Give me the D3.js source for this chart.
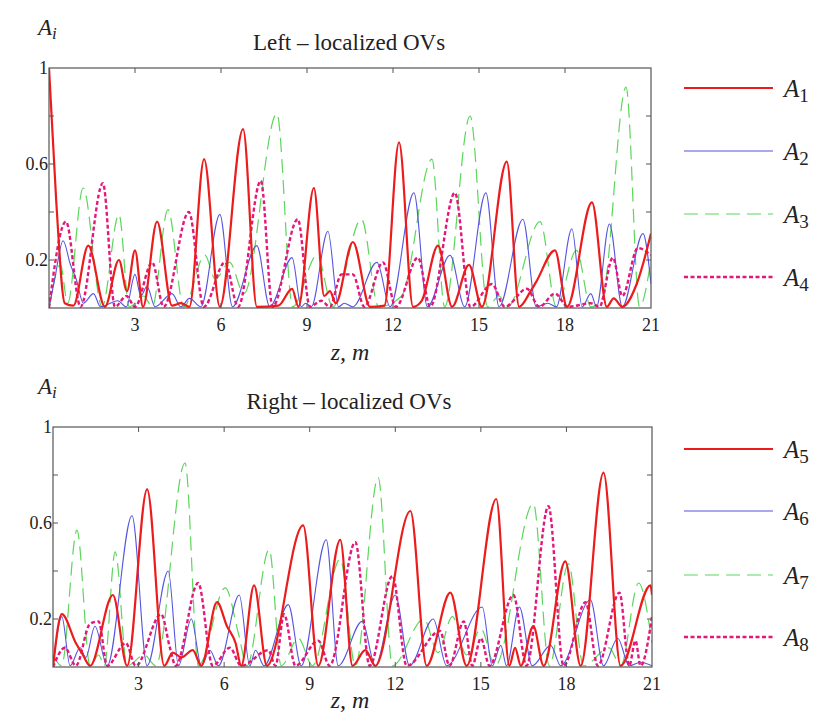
<!DOCTYPE html>
<html>
<head>
<meta charset="utf-8">
<script src="https://cdnjs.cloudflare.com/ajax/libs/d3/7.8.5/d3.min.js"></script>
<style>
  body { margin: 0; background: #fff; }
</style>
</head>
<body>
<script>
var w = 814;
var h = 716;

// tick values shared by both panels
var xTicks = [3, 6, 9, 12, 15, 18, 21];
var yTicks = [0.2, 0.4, 0.6, 0.8];
var yLabels = [1, 0.6, 0.2];

// [z, A] at peaks and troughs
// left-localized
var a1 = [[0,1],[0.25,0.45],[0.55,0.02],[0.85,0.01],[1.37,0.26],[1.95,0.005],[2.44,0.20],[2.72,0.07],[3.0,0.24],[3.28,0.005],[3.77,0.36],[4.29,0.01],[4.6,0.02],[4.9,0.005],[5.41,0.62],[5.96,0.005],[6.77,0.745],[7.25,0.005],[8.0,0.01],[8.48,0.08],[8.7,0.005],[9.24,0.50],[9.6,0.05],[9.8,0.07],[10.0,0.02],[10.6,0.275],[11.2,0.005],[11.7,0.01],[12.21,0.69],[12.7,0.005],[13.0,0.03],[13.57,0.26],[14.06,0.005],[14.65,0.18],[15.1,0.005],[15.97,0.61],[16.4,0.005],[16.8,0.07],[17.0,0.11],[17.65,0.24],[18.07,0.005],[18.94,0.44],[19.46,0.005],[19.7,0.04],[20.0,0.005],[20.5,0.1],[21,0.31]];
var a2 = [[0,0],[0.2,0.12],[0.49,0.28],[0.75,0.18],[0.95,0.12],[1.2,0.02],[1.55,0.06],[1.8,0.005],[2.4,0.03],[2.7,0.005],[3.0,0.14],[3.2,0.05],[3.42,0.09],[3.7,0.005],[4.29,0.06],[4.6,0.005],[4.9,0.04],[5.3,0.005],[5.96,0.39],[6.4,0.005],[7.25,0.26],[7.7,0.005],[8.48,0.21],[8.8,0.005],[8.95,0.02],[9.15,0.005],[9.73,0.32],[10.1,0.005],[10.3,0.02],[10.6,0.005],[11.44,0.19],[11.9,0.005],[12.73,0.48],[13.2,0.005],[13.99,0.22],[14.5,0.005],[15.24,0.48],[15.7,0.005],[16.53,0.37],[17.0,0.005],[17.4,0.02],[17.7,0.005],[18.24,0.33],[18.6,0.005],[18.9,0.06],[19.1,0.005],[19.55,0.35],[20.0,0.005],[20.72,0.31],[21,0.1]];
var a3 = [[0,0],[0.4,0.18],[0.65,0.02],[1.19,0.50],[1.85,0.005],[2.44,0.39],[2.8,0.005],[3.3,0.05],[3.6,0.005],[4.15,0.41],[4.7,0.005],[5.44,0.22],[5.8,0.12],[6.3,0.19],[6.8,0.06],[7.95,0.81],[8.5,0.005],[9.35,0.22],[9.9,0.005],[10.9,0.37],[11.5,0.005],[12.3,0.05],[13.36,0.62],[13.8,0.005],[14.69,0.80],[15.3,0.005],[15.7,0.05],[16.0,0.005],[17.13,0.36],[17.7,0.005],[18.4,0.24],[18.9,0.005],[19.3,0.04],[20.13,0.92],[20.6,0.005],[21,0.2]];
var a4 = [[0,0],[0.59,0.36],[1.1,0.005],[1.88,0.52],[2.3,0.005],[2.7,0.05],[3.0,0.005],[3.6,0.19],[4.0,0.005],[4.88,0.40],[5.4,0.005],[6.14,0.19],[6.6,0.005],[7.39,0.53],[7.8,0.005],[8.68,0.37],[9.1,0.005],[9.5,0.03],[9.8,0.005],[10.2,0.14],[10.6,0.14],[11.0,0.005],[11.65,0.19],[12.1,0.005],[12.87,0.21],[13.3,0.005],[14.16,0.48],[14.7,0.005],[15.45,0.10],[15.9,0.005],[16.67,0.08],[17.1,0.005],[17.65,0.06],[18.1,0.005],[18.9,0.02],[19.2,0.005],[19.67,0.21],[20.0,0.05],[20.54,0.25],[21,0.22]];
// right-localized
var a5 = [[0,0],[0.31,0.22],[0.8,0.10],[1.05,0.05],[1.3,0.005],[2.1,0.30],[2.6,0.005],[3.3,0.74],[3.9,0.005],[4.2,0.06],[4.5,0.04],[4.9,0.07],[5.2,0.005],[5.75,0.27],[6.1,0.17],[6.4,0.10],[6.6,0.005],[7.05,0.34],[7.5,0.005],[8.77,0.59],[9.3,0.005],[10.07,0.53],[10.5,0.005],[10.95,0.07],[11.3,0.005],[12.53,0.65],[13.1,0.005],[13.93,0.31],[14.5,0.005],[15.54,0.70],[16.0,0.005],[16.2,0.08],[16.4,0.005],[16.84,0.17],[17.2,0.005],[17.96,0.44],[18.5,0.005],[19.3,0.81],[19.9,0.005],[20.95,0.34],[21,0.3]];
var a6 = [[0,0],[0.31,0.21],[0.6,0.005],[0.95,0.08],[1.15,0.04],[1.47,0.17],[1.9,0.005],[2.77,0.63],[3.3,0.005],[4.04,0.40],[4.4,0.005],[4.85,0.20],[5.2,0.005],[5.5,0.07],[5.8,0.005],[6.53,0.30],[6.9,0.005],[7.1,0.07],[7.4,0.005],[8.25,0.26],[8.7,0.005],[9.58,0.53],[10.0,0.005],[10.84,0.19],[11.3,0.005],[12.0,0.30],[12.5,0.005],[13.33,0.20],[13.8,0.005],[15.05,0.25],[15.4,0.005],[15.7,0.09],[15.9,0.005],[16.35,0.25],[16.8,0.005],[17.45,0.09],[17.8,0.005],[18.84,0.28],[19.3,0.005],[19.8,0.12],[20.2,0.005],[20.6,0.02],[21,0.005]];
var a7 = [[0,0.05],[0.3,0.005],[0.84,0.57],[1.3,0.005],[1.6,0.05],[1.8,0.005],[2.18,0.48],[2.6,0.005],[3.2,0.05],[3.6,0.005],[4.63,0.85],[5.1,0.005],[6.04,0.33],[6.5,0.14],[6.8,0.005],[7.58,0.49],[8.0,0.005],[8.6,0.12],[9.1,0.005],[10.07,0.45],[10.6,0.005],[11.4,0.79],[11.9,0.005],[13.0,0.2],[13.5,0.06],[14.0,0.21],[14.5,0.05],[15.0,0.16],[15.5,0.005],[16.84,0.68],[17.4,0.005],[18.07,0.43],[18.6,0.005],[19.5,0.08],[19.9,0.005],[20.53,0.35],[21,0.1]];
var a8 = [[0,0],[0.42,0.08],[0.8,0.005],[1.3,0.18],[1.6,0.19],[1.9,0.005],[2.55,0.10],[2.9,0.005],[3.79,0.22],[4.1,0.08],[4.3,0.005],[5.09,0.35],[5.6,0.005],[6.2,0.08],[6.6,0.005],[7.55,0.07],[7.8,0.005],[8.1,0.22],[8.5,0.005],[9.3,0.11],[9.7,0.005],[10.6,0.52],[11.1,0.005],[11.9,0.38],[12.4,0.005],[13.57,0.15],[13.9,0.005],[14.4,0.19],[14.7,0.005],[15.0,0.12],[15.3,0.005],[16.14,0.30],[16.6,0.005],[17.37,0.67],[17.9,0.005],[18.67,0.27],[19.1,0.005],[19.86,0.31],[20.2,0.005],[20.42,0.11],[20.6,0.005],[21,0.21]];

var styles = [
  { color: "#ec1c1c", width: 2.2, dash: null },
  { color: "#5555e0", width: 1.1, dash: null },
  { color: "#5cd65c", width: 1.2, dash: "14,7" },
  { color: "#e4177a", width: 2.4, dash: "4,2.5" }
];

var panels = [
  { title: "Left \u2013 localized OVs", top: 68, left: 49, right: 651, bottom: 308,
    series: [a1, a2, a3, a4], names: ["1", "2", "3", "4"],
    legendY: [88, 151, 214, 277], zY: 360 },
  { title: "Right \u2013 localized OVs", top: 427, left: 53, right: 652, bottom: 667,
    series: [a5, a6, a7, a8], names: ["5", "6", "7", "8"],
    legendY: [449, 511, 575, 637], zY: 708 }
];

var svg = d3.select("body")
  .append("svg")
  .attr("width", w)
  .attr("height", h)
  .attr("font-family", "'Liberation Serif', 'Times New Roman', 'DejaVu Serif', serif")
  .attr("fill", "#222");

panels.forEach(function(p, pi) {
  var xScale = d3.scaleLinear().domain([0, 21]).range([p.left, p.right]);
  var yScale = d3.scaleLinear().domain([0, 1]).range([p.bottom, p.top]);

  var g = svg.append("g");

  svg.append("clipPath").attr("id", "clip" + pi)
    .append("rect")
    .attr("x", p.left).attr("y", p.top)
    .attr("width", p.right - p.left).attr("height", p.bottom - p.top);

  // curves
  var line = d3.line()
    .x(function(d) { return xScale(d[0]); })
    .y(function(d) { return yScale(d[1]); })
    .curve(d3.curveMonotoneX);

  var order = [2, 1, 3, 0]; // green under, red on top
  order.forEach(function(k) {
    var st = styles[k];
    g.append("path")
      .datum(p.series[k])
      .attr("clip-path", "url(#clip" + pi + ")")
      .attr("d", line)
      .attr("fill", "none")
      .attr("stroke", st.color)
      .attr("stroke-width", st.width)
      .attr("stroke-dasharray", st.dash)
      .attr("stroke-linejoin", "round");
  });

  // frame
  g.append("rect")
    .attr("x", p.left).attr("y", p.top)
    .attr("width", p.right - p.left).attr("height", p.bottom - p.top)
    .attr("fill", "none")
    .attr("stroke", "#555")
    .attr("stroke-width", 1.2);

  // inward ticks on all four sides
  var tl = 5;
  xTicks.slice(0, -1).forEach(function(t) {
    g.append("line").attr("x1", xScale(t)).attr("x2", xScale(t))
      .attr("y1", p.bottom).attr("y2", p.bottom - tl)
      .attr("stroke", "#555");
    g.append("line").attr("x1", xScale(t)).attr("x2", xScale(t))
      .attr("y1", p.top).attr("y2", p.top + tl)
      .attr("stroke", "#555");
  });
  yTicks.forEach(function(t) {
    g.append("line").attr("x1", p.left).attr("x2", p.left + tl)
      .attr("y1", yScale(t)).attr("y2", yScale(t))
      .attr("stroke", "#555");
    g.append("line").attr("x1", p.right).attr("x2", p.right - tl)
      .attr("y1", yScale(t)).attr("y2", yScale(t))
      .attr("stroke", "#555");
  });

  // tick labels
  g.selectAll(".xl")
    .data(xTicks)
    .enter()
    .append("text")
    .attr("x", function(d) { return xScale(d); })
    .attr("y", p.bottom + 23)
    .attr("text-anchor", "middle")
    .attr("font-size", "18px")
    .text(function(d) { return d; });

  g.selectAll(".yl")
    .data(yLabels)
    .enter()
    .append("text")
    .attr("x", p.left - 1)
    .attr("y", function(d) { return yScale(d) + 6; })
    .attr("text-anchor", "end")
    .attr("font-size", "18px")
    .text(function(d) { return d; });

  // titles
  g.append("text")
    .attr("x", 349).attr("y", p.top - 18)
    .attr("text-anchor", "middle")
    .attr("font-size", "23px")
    .text(p.title);

  var ai = g.append("text")
    .attr("x", 38).attr("y", p.top - 33)
    .attr("font-size", "23px")
    .attr("font-style", "italic");
  ai.append("tspan").text("A");
  ai.append("tspan").attr("font-size", "17px").attr("dy", 4).text("i");

  g.append("text")
    .attr("x", 350).attr("y", p.zY)
    .attr("text-anchor", "middle")
    .attr("font-size", "24px")
    .attr("font-style", "italic")
    .text("z, m");

  // legend
  p.legendY.forEach(function(ly, k) {
    var st = styles[k];
    g.append("line")
      .attr("x1", 684).attr("x2", 773)
      .attr("y1", ly).attr("y2", ly)
      .attr("stroke", st.color)
      .attr("stroke-width", st.width)
      .attr("stroke-dasharray", st.dash);
    var lt = g.append("text")
      .attr("x", 784).attr("y", ly + 9)
      .attr("font-size", "25px")
      .attr("font-style", "italic");
    lt.append("tspan").text("A");
    lt.append("tspan").attr("font-size", "19px").attr("font-style", "normal").attr("dy", 5).text(p.names[k]);
  });
});
</script>
</body>
</html>
